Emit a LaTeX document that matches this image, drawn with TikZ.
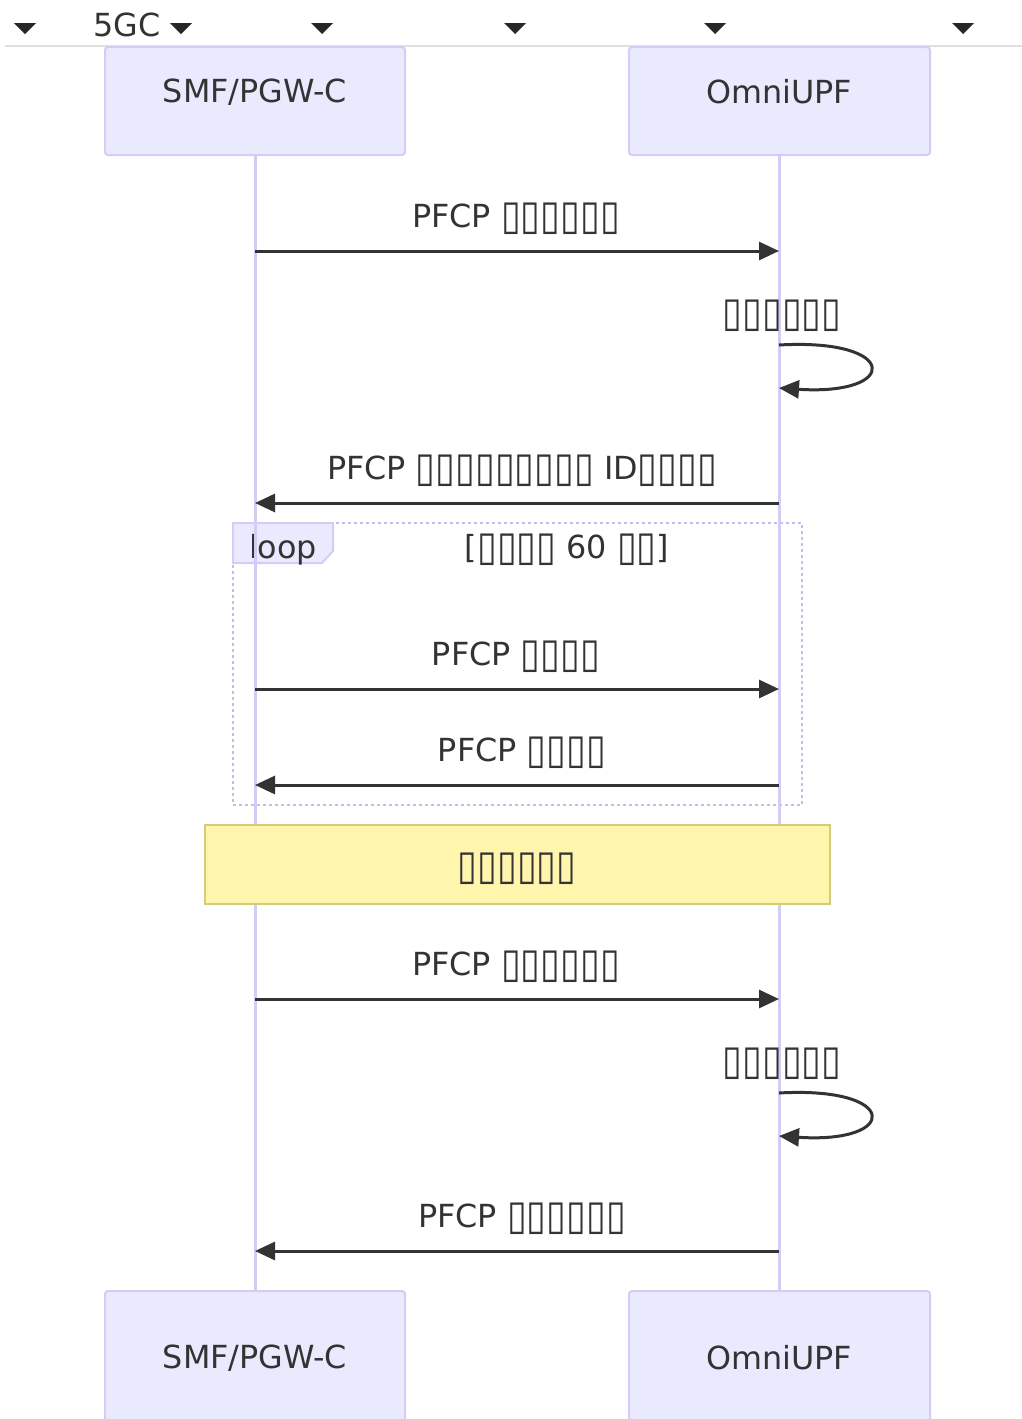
\documentclass[tikz,border=0pt]{standalone}
\usepackage{fontspec}
\setmainfont{DejaVu Sans}
\usetikzlibrary{arrows.meta}
\definecolor{actorfill}{HTML}{EAEAFF}
\definecolor{actorline}{HTML}{D3CCF4}
\definecolor{loopline}{HTML}{C4BCEC}
\definecolor{msgline}{HTML}{333333}
\definecolor{notefill}{HTML}{FFF5AD}
\definecolor{noteline}{HTML}{D2CD78}
\newcommand{\tf}{\raisebox{-0.08em}{\scalebox{1.13}[1.3]{▯}}}

\begin{document}
\begin{tikzpicture}[x=0.5pt, y=-0.5pt,
    every node/.style={font=\fontsize{15.9}{19}\selectfont, text=black!80},
    actor/.style={draw=actorline, fill=actorfill, line width=1pt, rounded corners=1.5pt},
    life/.style={draw=actorline, line width=1.5pt},
    msg/.style={draw=msgline, line width=1.5pt, -{Triangle[length=10pt, width=9pt]}},
    tri/.style={fill=black!85, draw=none}]
    \useasboundingbox (0,0) rectangle (1022,1419);

    % top bar
    \draw[black!12, line width=1pt] (5,46) -- (1022,46);
    \foreach \x in {25, 181, 322, 515, 715, 963}
        \fill[tri] (\x-11,23) -- (\x+11,23) -- (\x,34) -- cycle;
    \node (grp) at (127,25) {5GC};

    % actors
    \draw[actor] (105,47) rectangle (405,155);
    \draw[actor] (629,47) rectangle (930,155);
    \draw[actor] (105,1291) rectangle (405,1425);
    \draw[actor] (629,1291) rectangle (930,1425);
    \node (smfT) at (255,92) {SMF/PGW-C};
    \node (upfT) at (779,92) {OmniUPF};
    \node (smfB) at (255,1358) {SMF/PGW-C};
    \node (upfB) at (779,1358) {OmniUPF};
    \coordinate (smfTop) at (255,155);
    \coordinate (upfTop) at (779,155);
    \coordinate (smfBot) at (255,1291);
    \coordinate (upfBot) at (779,1291);

    % loop frame
    \draw[loopline, line width=1pt, dash pattern=on 1.5pt off 1.5pt]
        (233,523) rectangle (802,805);
    \draw[actorline, fill=actorfill, line width=1pt]
        (233,523) -- (333,523) -- (333,551) -- (322,563) -- (233,563) -- cycle;
    \node (lp) at (283,550) {loop};
    \node (cond) at (567,550) {[\tf\tf\tf\tf{} 60 \tf\tf]};

    % lifelines
    \draw[life] (smfTop) -- (smfBot);
    \draw[life] (upfTop) -- (upfBot);

    % note
    \draw[draw=noteline, fill=notefill, line width=1pt] (205,825) rectangle (830,904);
    \node (nt) at (517,869) {\tf\tf\tf\tf\tf\tf};

    % messages
    \coordinate (a1) at (255,251);   \coordinate (b1) at (779,251);
    \coordinate (a2) at (779,345);   \coordinate (b2) at (779,388);
    \coordinate (a3) at (779,503);   \coordinate (b3) at (255,503);
    \coordinate (a4) at (255,689);   \coordinate (b4) at (779,689);
    \coordinate (a5) at (779,785);   \coordinate (b5) at (255,785);
    \coordinate (a6) at (255,999);   \coordinate (b6) at (779,999);
    \coordinate (a7) at (779,1093);  \coordinate (b7) at (779,1136);
    \coordinate (a8) at (779,1251);  \coordinate (b8) at (255,1251);

    \node (m1) at (516,219) {PFCP \tf\tf\tf\tf\tf\tf};
    \node (m2) at (782,316) {\tf\tf\tf\tf\tf\tf};
    \node (m3) at (522,471) {PFCP \tf\tf\tf\tf\tf\tf\tf\tf\tf{} ID\tf\tf\tf\tf};
    \node (m4) at (516,657) {PFCP \tf\tf\tf\tf};
    \node (m5) at (522,753) {PFCP \tf\tf\tf\tf};
    \node (m6) at (516,967) {PFCP \tf\tf\tf\tf\tf\tf};
    \node (m7) at (782,1064) {\tf\tf\tf\tf\tf\tf};
    \node (m8) at (522,1219) {PFCP \tf\tf\tf\tf\tf\tf};

    \draw[msg] (a1) -- (b1);
    \draw[msg] (a2) .. controls (900,338) and (900,396) .. (b2);
    \draw[msg] (a3) -- (b3);
    \draw[msg] (a4) -- (b4);
    \draw[msg] (a5) -- (b5);
    \draw[msg] (a6) -- (b6);
    \draw[msg] (a7) .. controls (900,1086) and (900,1144) .. (b7);
    \draw[msg] (a8) -- (b8);
\end{tikzpicture}
\end{document}
